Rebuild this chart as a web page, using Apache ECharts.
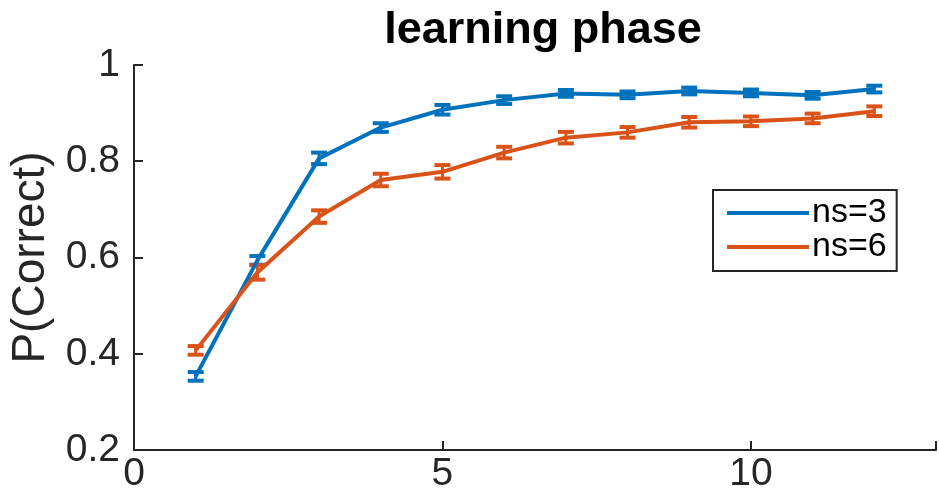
<!DOCTYPE html>
<html>
<head>
<meta charset="utf-8">
<script src="https://cdn.jsdelivr.net/npm/echarts@6/dist/echarts.min.js"></script>
<style>
  html, body { margin: 0; padding: 0; background: #fff; }
  #chart { width: 939px; height: 502px; }
</style>
</head>
<body>
<div id="chart"></div>
<script>
// Learning blocks 1..12
const blocks = [1, 2, 3, 4, 5, 6, 7, 8, 9, 10, 11, 12];

// Mean proportion correct and standard error, set size 3
const ns3Mean = [0.353, 0.594, 0.806, 0.870, 0.907, 0.927, 0.941, 0.938, 0.946, 0.942, 0.937, 0.950];
const ns3Err  = [0.009, 0.009, 0.012, 0.009, 0.010, 0.008, 0.007, 0.007, 0.007, 0.007, 0.007, 0.007];

// Mean proportion correct and standard error, set size 6
const ns6Mean = [0.407, 0.569, 0.685, 0.761, 0.778, 0.818, 0.849, 0.860, 0.881, 0.883, 0.889, 0.904];
const ns6Err  = [0.009, 0.015, 0.013, 0.013, 0.014, 0.012, 0.012, 0.011, 0.011, 0.010, 0.010, 0.010];

const xTicks = [0, 5, 10];
const seriesNames = ['ns=3', 'ns=6'];
const colors = ['#0072BD', '#D95319'];

const FONT = '"Liberation Sans", Arial, Helvetica, sans-serif';
const AXIS_COLOR = '#262626';

function lineData(means) {
  return blocks.map((b, i) => [b, means[i]]);
}
function errData(means, errs) {
  return blocks.map((b, i) => [b, means[i] - errs[i], means[i] + errs[i]]);
}

// Vertical error bar with caps, positioned through the axis scales
function errorBarItem(color) {
  return function (params, api) {
    const x = api.value(0);
    const lo = api.coord([x, api.value(1)]);
    const hi = api.coord([x, api.value(2)]);
    const halfCap = 8;
    const stem = { stroke: color, lineWidth: 3, fill: null };
    const cap = { stroke: color, lineWidth: 4, fill: null };
    return {
      type: 'group',
      children: [
        { type: 'line', shape: { x1: lo[0], y1: lo[1], x2: hi[0], y2: hi[1] }, style: stem },
        { type: 'line', shape: { x1: lo[0] - halfCap, y1: lo[1], x2: lo[0] + halfCap, y2: lo[1] }, style: cap },
        { type: 'line', shape: { x1: hi[0] - halfCap, y1: hi[1], x2: hi[0] + halfCap, y2: hi[1] }, style: cap }
      ]
    };
  };
}

function groupSeries(name, means, errs, color) {
  return [
    {
      name: name,
      type: 'line',
      data: lineData(means),
      showSymbol: false,
      symbol: 'none',
      lineStyle: { color: color, width: 4 },
      itemStyle: { color: color },
      animation: false
    },
    {
      name: name + ' err',
      type: 'custom',
      data: errData(means, errs),
      renderItem: errorBarItem(color),
      encode: { x: 0, y: [1, 2] },
      animation: false,
      silent: true
    }
  ];
}

const chart = echarts.init(document.getElementById('chart'), null, { renderer: 'canvas' });

chart.setOption({
  backgroundColor: '#ffffff',
  animation: false,
  title: {
    text: 'learning phase',
    left: 538,
    textAlign: 'center',
    top: 3,
    textStyle: { fontFamily: FONT, fontSize: 45, fontWeight: 'bold', color: '#000' }
  },
  grid: { left: 133, top: 65, width: 811, height: 385, containLabel: false },
  legend: {
    data: seriesNames,
    orient: 'vertical',
    left: 713,
    top: 190,
    padding: [6, 10, 7, 14],
    itemGap: 0,
    itemWidth: 82,
    itemHeight: 4,
    icon: 'rect',
    borderColor: AXIS_COLOR,
    borderWidth: 2,
    borderRadius: 0,
    backgroundColor: '#fff',
    textStyle: { fontFamily: FONT, fontSize: 34, color: '#000', lineHeight: 32, padding: [0, 0, 0, -2] }
  },
  xAxis: {
    type: 'value',
    min: 0,
    max: 13,
    interval: 5,
    splitLine: { show: false },
    axisLine: { show: true, onZero: false, lineStyle: { color: AXIS_COLOR, width: 2 } },
    axisTick: { show: true, inside: true, length: 9, lineStyle: { color: AXIS_COLOR, width: 2 } },
    axisLabel: {
      margin: 5,
      fontFamily: FONT,
      fontSize: 39,
      color: AXIS_COLOR,
      formatter: v => (xTicks.indexOf(v) >= 0 ? String(v) : '')
    }
  },
  yAxis: {
    type: 'value',
    min: 0.2,
    max: 1,
    interval: 0.2,
    name: 'P(Correct)',
    nameLocation: 'middle',
    nameGap: 80,
    nameTextStyle: { fontFamily: FONT, fontSize: 46, color: AXIS_COLOR },
    splitLine: { show: false },
    axisLine: { show: true, onZero: false, lineStyle: { color: AXIS_COLOR, width: 2 } },
    axisTick: { show: true, inside: true, length: 9, lineStyle: { color: AXIS_COLOR, width: 2 } },
    axisLabel: {
      margin: 14,
      fontFamily: FONT,
      fontSize: 39,
      color: AXIS_COLOR,
      formatter: v => String(Math.round(v * 10) / 10)
    }
  },
  series: [
    ...groupSeries(seriesNames[0], ns3Mean, ns3Err, colors[0]),
    ...groupSeries(seriesNames[1], ns6Mean, ns6Err, colors[1])
  ]
});
</script>
</body>
</html>
